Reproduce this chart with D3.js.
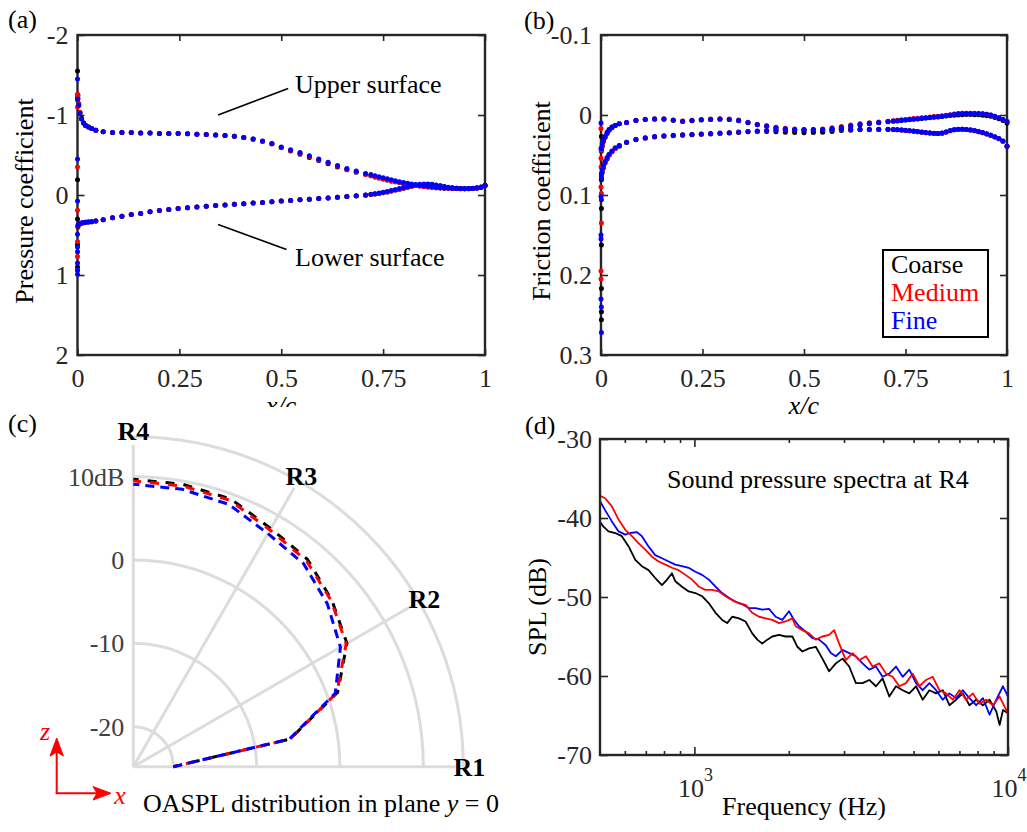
<!DOCTYPE html>
<html>
<head>
<meta charset="utf-8">
<script src="https://cdn.jsdelivr.net/npm/d3@7"></script>
<style>
  body { margin: 0; background: #fff; }
  svg { display: block; font-family: "Liberation Serif", "Times New Roman", serif; }
</style>
</head>
<body>
<svg id="fig" width="1027" height="832"></svg>
<script>
// ---------- data ----------
const xTicks = [0, 0.25, 0.5, 0.75, 1];
const cpTicks = [-2, -1, 0, 1, 2];
const cfTicks = [-0.1, 0, 0.1, 0.2, 0.3];

// chordwise stations shared by the (a) and (b) dot plots
const stationX = [
  0.001, 0.003, 0.006, 0.01, 0.015, 0.02, 0.027, 0.035, 0.045,
  0.063, 0.086, 0.109, 0.132, 0.155, 0.178, 0.201, 0.224, 0.247, 0.27,
  0.293, 0.316, 0.339, 0.362, 0.385, 0.408, 0.431, 0.454, 0.477, 0.5,
  0.523, 0.546, 0.569, 0.592, 0.615, 0.638, 0.661, 0.684, 0.707,
  0.72, 0.73, 0.74, 0.75, 0.76, 0.77, 0.78, 0.79, 0.8, 0.81,
  0.82, 0.83, 0.84, 0.85, 0.86, 0.87, 0.88, 0.89, 0.9, 0.91,
  0.92, 0.93, 0.94, 0.95, 0.96, 0.97, 0.98, 0.99, 1
];

// (a) pressure coefficient
const cpUpperFine = [
  -1.2, -1.12, -1.02, -0.95, -0.9, -0.87, -0.85, -0.83, -0.81,
  -0.79, -0.78, -0.78, -0.78, -0.775, -0.775, -0.77, -0.77, -0.77, -0.765,
  -0.76, -0.755, -0.75, -0.745, -0.735, -0.72, -0.7, -0.675, -0.645, -0.6,
  -0.565, -0.53, -0.49, -0.45, -0.41, -0.37, -0.33, -0.3, -0.27,
  -0.255, -0.24, -0.228, -0.215, -0.203, -0.19, -0.178, -0.167, -0.157, -0.147,
  -0.138, -0.13, -0.122, -0.115, -0.108, -0.102, -0.097, -0.093, -0.089, -0.086,
  -0.083, -0.081, -0.08, -0.08, -0.081, -0.083, -0.088, -0.098, -0.12
];
const cpUpperMedium = [
  -1.22, -1.13, -1.03, -0.95, -0.9, -0.87, -0.85, -0.83, -0.81,
  -0.79, -0.78, -0.78, -0.78, -0.775, -0.775, -0.77, -0.77, -0.77, -0.765,
  -0.76, -0.755, -0.75, -0.745, -0.735, -0.72, -0.695, -0.67, -0.637, -0.59,
  -0.555, -0.52, -0.48, -0.44, -0.4, -0.36, -0.32, -0.29, -0.255,
  -0.24, -0.225, -0.212, -0.2, -0.188, -0.176, -0.165, -0.155, -0.145, -0.136,
  -0.128, -0.12, -0.113, -0.107, -0.101, -0.096, -0.092, -0.088, -0.085, -0.083,
  -0.081, -0.08, -0.079, -0.079, -0.08, -0.082, -0.087, -0.097, -0.12
];
const cpUpperCoarse = [
  -1.25, -1.14, -1.03, -0.96, -0.9, -0.87, -0.85, -0.83, -0.81,
  -0.79, -0.78, -0.78, -0.78, -0.775, -0.775, -0.77, -0.77, -0.77, -0.765,
  -0.76, -0.755, -0.75, -0.745, -0.735, -0.72, -0.7, -0.672, -0.64, -0.595,
  -0.55, -0.51, -0.47, -0.43, -0.39, -0.35, -0.315, -0.285, -0.26,
  -0.24, -0.225, -0.212, -0.2, -0.188, -0.176, -0.165, -0.155, -0.145, -0.136,
  -0.128, -0.12, -0.113, -0.107, -0.101, -0.096, -0.092, -0.088, -0.085, -0.083,
  -0.081, -0.08, -0.079, -0.079, -0.08, -0.082, -0.087, -0.097, -0.12
];
const cpLowerFine = [
  0.38, 0.36, 0.355, 0.35, 0.345, 0.342, 0.338, 0.333, 0.326,
  0.31, 0.285, 0.265, 0.245, 0.23, 0.21, 0.195, 0.18, 0.17, 0.16,
  0.15, 0.14, 0.13, 0.125, 0.115, 0.11, 0.1, 0.095, 0.085, 0.075,
  0.068, 0.06, 0.052, 0.045, 0.037, 0.028, 0.02, 0.01, 0.0,
  -0.008, -0.016, -0.024, -0.034, -0.044, -0.055, -0.067, -0.08, -0.092, -0.104,
  -0.115, -0.125, -0.133, -0.138, -0.138, -0.133, -0.125, -0.115, -0.105, -0.097,
  -0.09, -0.085, -0.082, -0.08, -0.08, -0.082, -0.087, -0.097, -0.12
];
const cpLowerMedium = [
  0.39, 0.365, 0.357, 0.35, 0.345, 0.342, 0.338, 0.333, 0.326,
  0.31, 0.285, 0.265, 0.245, 0.23, 0.21, 0.195, 0.18, 0.17, 0.16,
  0.15, 0.14, 0.13, 0.125, 0.115, 0.11, 0.1, 0.095, 0.085, 0.075,
  0.068, 0.06, 0.052, 0.045, 0.037, 0.028, 0.02, 0.01, 0.0,
  -0.005, -0.012, -0.02, -0.029, -0.039, -0.05, -0.061, -0.073, -0.085, -0.097,
  -0.108, -0.118, -0.126, -0.131, -0.132, -0.128, -0.12, -0.111, -0.102, -0.095,
  -0.089, -0.084, -0.081, -0.079, -0.079, -0.081, -0.086, -0.096, -0.12
];
const cpLowerCoarse = [
  0.4, 0.37, 0.36, 0.352, 0.346, 0.342, 0.338, 0.333, 0.326,
  0.31, 0.285, 0.265, 0.245, 0.23, 0.21, 0.195, 0.18, 0.17, 0.16,
  0.15, 0.14, 0.13, 0.125, 0.115, 0.11, 0.1, 0.095, 0.085, 0.075,
  0.068, 0.06, 0.052, 0.045, 0.037, 0.028, 0.02, 0.013, 0.004,
  -0.005, -0.012, -0.02, -0.029, -0.039, -0.05, -0.061, -0.073, -0.085, -0.097,
  -0.108, -0.118, -0.126, -0.131, -0.132, -0.128, -0.12, -0.111, -0.102, -0.095,
  -0.089, -0.084, -0.081, -0.079, -0.079, -0.081, -0.086, -0.096, -0.12
];
// points around the leading-edge stagnation region [x/c, Cp]
const cpNoseFine = [[0, -1.45], [0, -1.19], [0, -0.45], [0, 0.075], [0, 0.49], [0, 0.65], [0, 0.71], [0, 0.85], [0, 0.94], [0, 0.99]];
const cpNoseMedium = [[0, -1.26], [0, -1.1], [0, -0.35], [0, 0.19], [0, 0.58], [0, 0.77], [0, 0.94]];
const cpNoseCoarse = [[0, -1.55], [0, -1.22], [0, -0.19], [0, 0.3], [0, 0.62], [0, 0.9]];

// (b) friction coefficient
const cfUpperFine = [
  0.042, 0.036, 0.031, 0.027, 0.022, 0.018, 0.015, 0.013, 0.011,
  0.0095, 0.0068, 0.0055, 0.005, 0.005, 0.0065, 0.0078, 0.007, 0.006, 0.0055,
  0.005, 0.0055, 0.007, 0.0095, 0.012, 0.0137, 0.0158, 0.0172, 0.0182, 0.0188,
  0.019, 0.0185, 0.017, 0.0152, 0.0133, 0.0117, 0.0103, 0.0093, 0.0082,
  0.0076, 0.0071, 0.0066, 0.0061, 0.0056, 0.0051, 0.0046, 0.0041, 0.0036, 0.0031,
  0.0026, 0.0021, 0.0015, 0.0008, 0.0, -0.001, -0.0015, -0.002, -0.002, -0.002,
  -0.002, -0.0018, -0.0015, -0.001, 0.0, 0.0015, 0.0035, 0.0055, 0.008
];
const cfUpperMedium = [
  0.044, 0.038, 0.032, 0.027, 0.022, 0.018, 0.015, 0.013, 0.011,
  0.0093, 0.0066, 0.0053, 0.0048, 0.0048, 0.0062, 0.0074, 0.0067, 0.0057, 0.0051,
  0.0046, 0.005, 0.0064, 0.009, 0.0118, 0.0135, 0.0152, 0.0165, 0.0175, 0.018,
  0.018, 0.0175, 0.016, 0.0143, 0.0125, 0.011, 0.0097, 0.0087, 0.0077,
  0.0071, 0.0066, 0.006, 0.0055, 0.005, 0.0045, 0.004, 0.0035, 0.003, 0.0025,
  0.002, 0.0015, 0.001, 0.0004, -0.0004, -0.0013, -0.0018, -0.0022, -0.0023, -0.0023,
  -0.0022, -0.002, -0.0016, -0.001, 0.0, 0.0015, 0.0035, 0.0055, 0.008
];
const cfUpperCoarse = [
  0.045, 0.039, 0.033, 0.028, 0.023, 0.019, 0.016, 0.013, 0.011,
  0.0097, 0.007, 0.0057, 0.0052, 0.0052, 0.0067, 0.008, 0.0072, 0.0062, 0.0057,
  0.0052, 0.0057, 0.0072, 0.0098, 0.0123, 0.014, 0.0162, 0.0178, 0.019, 0.0198,
  0.0205, 0.0205, 0.0193, 0.0168, 0.0145, 0.0125, 0.011, 0.0097, 0.0085,
  0.0079, 0.0074, 0.0069, 0.0064, 0.0059, 0.0054, 0.0049, 0.0044, 0.0039, 0.0034,
  0.0029, 0.0024, 0.0019, 0.0013, 0.0007, 0.0003, 0.0, -0.0004, -0.0005, -0.0005,
  -0.0004, -0.0002, 0.0002, 0.0008, 0.0017, 0.003, 0.0048, 0.0068, 0.01
];
const cfLowerFine = [
  0.075, 0.068, 0.063, 0.058, 0.053, 0.049, 0.045, 0.041, 0.038,
  0.034, 0.0305, 0.0285, 0.027, 0.026, 0.0254, 0.0248, 0.0243, 0.0238, 0.0232,
  0.0226, 0.0221, 0.0214, 0.0206, 0.02, 0.0195, 0.019, 0.0187, 0.0185, 0.0183,
  0.0181, 0.018, 0.0179, 0.0178, 0.0178, 0.0178, 0.0178, 0.0178, 0.0179,
  0.018, 0.0183, 0.0187, 0.0191, 0.0196, 0.0201, 0.0207, 0.0213, 0.0219, 0.0224,
  0.0228, 0.023, 0.0226, 0.0212, 0.0195, 0.0183, 0.0178, 0.0177, 0.018, 0.0186,
  0.0195, 0.0206, 0.0219, 0.0235, 0.0252, 0.0272, 0.0295, 0.0325, 0.039
];
const cfLowerMedium = [
  0.077, 0.07, 0.064, 0.059, 0.054, 0.05, 0.046, 0.042, 0.038,
  0.0342, 0.0307, 0.0287, 0.0272, 0.0262, 0.0256, 0.025, 0.0245, 0.024, 0.0234,
  0.0228, 0.0223, 0.0216, 0.0208, 0.0202, 0.0197, 0.0192, 0.0189, 0.0187, 0.0185,
  0.0183, 0.0182, 0.0181, 0.018, 0.018, 0.018, 0.018, 0.018, 0.0181,
  0.0182, 0.0185, 0.0189, 0.0193, 0.0198, 0.0203, 0.0209, 0.0215, 0.0221, 0.0226,
  0.023, 0.0232, 0.0228, 0.0214, 0.0197, 0.0185, 0.018, 0.0179, 0.0182, 0.0188,
  0.0197, 0.0208, 0.0221, 0.0237, 0.0254, 0.0274, 0.0297, 0.0327, 0.039
];
const cfLowerCoarse = [
  0.08, 0.072, 0.066, 0.06, 0.055, 0.05, 0.046, 0.042, 0.039,
  0.0345, 0.031, 0.029, 0.0275, 0.0265, 0.0258, 0.0252, 0.0247, 0.0242, 0.0236,
  0.023, 0.0225, 0.0218, 0.021, 0.0205, 0.0205, 0.021, 0.0215, 0.022, 0.0222,
  0.022, 0.0215, 0.0205, 0.0195, 0.019, 0.0185, 0.0183, 0.0182, 0.0182,
  0.0182, 0.0185, 0.0189, 0.0193, 0.0198, 0.0203, 0.0209, 0.0215, 0.0221, 0.0226,
  0.023, 0.0232, 0.0228, 0.0214, 0.0197, 0.0185, 0.018, 0.0179, 0.0182, 0.0188,
  0.0197, 0.0208, 0.0221, 0.0237, 0.0254, 0.0274, 0.0297, 0.0327, 0.039
];
const cfNoseFine = [[0, 0.01], [0, 0.042], [0.001, 0.073], [0.001, 0.079], [0, 0.102], [0.001, 0.106], [0, 0.15], [0, 0.155], [0, 0.23], [0.001, 0.24], [0.001, 0.272]];
const cfNoseMedium = [[0, 0.017], [0, 0.054], [0, 0.065], [0, 0.09], [0.001, 0.098], [0.001, 0.135], [0, 0.195], [0, 0.205]];
const cfNoseCoarse = [[0.001, 0.027], [0.001, 0.081], [0.001, 0.117], [0.001, 0.1625], [0.001, 0.217], [0.001, 0.246], [0.001, 0.256]];

// (c) OASPL directivity, dB
const polarAngles = [0, 10, 20, 30, 40, 50, 60, 70, 80, 90];
const oasplCoarse = [-20.0, -5.7, 1.3, 4.8, 6.3, 7.7, 8.2, 9.4, 9.6, 9.7];
const oasplMedium = [-20.0, -5.7, 1.2, 4.7, 6.2, 7.5, 8.0, 9.2, 9.4, 9.5];
const oasplFine = [-20.0, -5.8, 1.0, 3.9, 5.6, 7.0, 7.5, 8.7, 9.0, 9.1];
const polarRings = [-20, -10, 0, 10];
const polarSpokes = [0, 30, 60, 90];
const spokeNames = ['R1', 'R2', 'R3', 'R4'];

// (d) sound pressure spectra at R4
const splTicks = [-70, -60, -50, -40, -30];
const freqMajor = [1000, 10000];
const freqMinor = [600, 700, 800, 900, 2000, 3000, 4000, 5000, 6000, 7000, 8000, 9000];
const freqCoarse = [
  494, 513, 532, 559, 587, 617, 648, 680, 714, 750,
  788, 818, 848, 869, 913, 959, 1007, 1058, 1112, 1168,
  1226, 1272, 1320, 1387, 1456, 1529, 1587, 1646, 1708, 1772,
  1861, 1954, 2053, 2130, 2210, 2321, 2438, 2560, 2689, 2825,
  2967, 3116, 3273, 3437, 3611, 3792, 3982, 4182, 4393, 4614,
  4846, 5089, 5345, 5615, 5897, 6193, 6504, 6832, 7176, 7536,
  7915, 8318, 8733, 9177, 9403, 9639, 10000
];
const splCoarse = [
  -40.2, -41.1, -41.7, -41.9, -42.3, -43.6, -45.3, -46.1, -46.6, -47.6,
  -48.5, -47.8, -47.0, -48.0, -48.7, -49.3, -49.5, -49.9, -50.8, -52.0,
  -52.9, -53.3, -52.5, -52.7, -53.1, -54.6, -55.4, -55.9, -55.4, -55.0,
  -54.8, -55.0, -55.0, -56.3, -56.9, -56.5, -56.3, -57.8, -59.4, -58.4,
  -57.8, -58.8, -60.9, -60.9, -60.5, -61.3, -60.3, -62.6, -61.3, -61.8,
  -62.2, -61.3, -63.0, -61.8, -62.2, -61.8, -63.7, -63.0, -62.2, -63.7,
  -63.0, -63.7, -63.0, -64.5, -66.2, -64.3, -64.7
];
const freqMedium = [
  494, 519, 545, 573, 602, 632, 664, 697, 732, 769,
  808, 848, 891, 936, 983, 1033, 1084, 1139, 1197, 1257,
  1320, 1387, 1456, 1529, 1607, 1687, 1772, 1861, 1954, 2053,
  2104, 2210, 2321, 2438, 2560, 2689, 2790, 2895, 3040, 3194,
  3354, 3523, 3700, 3886, 4082, 4287, 4502, 4728, 4967, 5216,
  5478, 5753, 6042, 6347, 6666, 7001, 7353, 7724, 8112, 8521,
  8954, 9403, 9756, 10000
];
const splMedium = [
  -37.1, -37.5, -38.5, -40.2, -41.5, -42.3, -43.2, -44.0, -44.9, -45.5,
  -45.9, -46.3, -46.6, -47.2, -47.8, -48.7, -49.1, -49.1, -49.3, -49.9,
  -50.4, -50.8, -51.0, -52.0, -52.5, -52.7, -52.9, -53.3, -53.1, -52.7,
  -53.7, -54.2, -54.6, -55.4, -55.0, -54.8, -54.2, -55.9, -58.0, -57.1,
  -58.0, -57.5, -58.8, -58.4, -59.7, -60.1, -61.3, -60.9, -59.7, -61.3,
  -60.5, -60.1, -61.8, -62.2, -63.0, -61.8, -63.0, -62.2, -63.5, -63.0,
  -63.7, -62.6, -63.9, -64.7
];
const freqFine = [
  494, 519, 545, 573, 602, 624, 656, 680, 714, 750,
  788, 828, 869, 913, 959, 1007, 1058, 1112, 1168, 1226,
  1288, 1353, 1421, 1492, 1567, 1646, 1729, 1816, 1907, 2003,
  2078, 2156, 2265, 2378, 2498, 2624, 2723, 2825, 2967, 3116,
  3273, 3437, 3611, 3792, 3982, 4182, 4393, 4614, 4846, 5089,
  5345, 5615, 5897, 6193, 6504, 6832, 7176, 7536, 7915, 8318,
  8733, 9177, 9639, 10000
];
const splFine = [
  -37.5, -39.0, -40.4, -41.7, -42.1, -41.9, -41.8, -42.3, -43.6, -44.7,
  -45.1, -45.5, -45.9, -46.1, -46.3, -46.8, -47.2, -47.8, -48.7, -49.5,
  -50.1, -50.6, -50.9, -51.4, -51.4, -51.6, -51.5, -52.5, -52.9, -51.8,
  -52.9, -53.7, -54.4, -55.2, -55.4, -56.1, -57.1, -57.5, -56.7, -57.1,
  -57.5, -58.4, -59.2, -58.8, -60.1, -59.7, -58.8, -60.1, -59.2, -60.9,
  -61.8, -60.9, -61.8, -63.0, -62.2, -62.8, -61.8, -62.8, -63.7, -62.8,
  -64.9, -63.0, -61.3, -62.6
];

// ---------- drawing ----------
const svg = d3.select('#fig');
const FONT = 26;
const AXIS_COLOR = '#262626';
const COLORS = { coarse: '#000000', medium: '#ff0000', fine: '#0000ff' };

function styleAxis(sel) {
  sel.attr('font-family', null).attr('font-size', null);
  sel.select('.domain').remove();
  sel.selectAll('.tick line').attr('stroke', AXIS_COLOR).attr('stroke-width', 1.6);
  sel.selectAll('.tick text').attr('fill', AXIS_COLOR).style('font-size', FONT + 'px');
}

function label(g, x, y, text, opts = {}) {
  return g.append('text')
    .attr('x', x).attr('y', y)
    .attr('font-size', opts.size || FONT)
    .attr('fill', opts.fill || '#000')
    .attr('text-anchor', opts.anchor || 'start')
    .attr('font-style', opts.italic ? 'italic' : null)
    .attr('font-weight', opts.bold ? 'bold' : null)
    .text(text);
}

function boxAxes(g, x, y, xVals, yVals, xFmt, yFmt, box) {
  g.append('g').attr('transform', `translate(0,${box.bottom})`)
    .call(d3.axisBottom(x).tickValues(xVals).tickSize(-6).tickPadding(14).tickFormat(xFmt))
    .call(styleAxis);
  g.append('g').attr('transform', `translate(0,${box.top})`)
    .call(d3.axisTop(x).tickValues(xVals).tickSize(-6).tickFormat(''))
    .call(styleAxis);
  g.append('g').attr('transform', `translate(${box.left},0)`)
    .call(d3.axisLeft(y).tickValues(yVals).tickSize(-7).tickPadding(9).tickFormat(yFmt))
    .call(styleAxis);
  g.append('g').attr('transform', `translate(${box.right},0)`)
    .call(d3.axisRight(y).tickValues(yVals).tickSize(-7).tickFormat(''))
    .call(styleAxis);
  g.append('rect')
    .attr('x', box.left).attr('y', box.top)
    .attr('width', box.right - box.left).attr('height', box.bottom - box.top)
    .attr('fill', 'none').attr('stroke', AXIS_COLOR).attr('stroke-width', 2.4);
}

function dotPanel(box, yDomain, yTicks, series) {
  const x = d3.scaleLinear().domain([0, 1]).range([box.left, box.right]);
  const y = d3.scaleLinear().domain(yDomain).range([box.top, box.bottom]);
  const g = svg.append('g');
  boxAxes(g, x, y, xTicks, yTicks, d => String(d), d => String(d), box);
  series.forEach(s => {
    const pts = s.nose.concat(d3.zip(stationX, s.upper), d3.zip(stationX, s.lower));
    g.append('g').selectAll('circle').data(pts).join('circle')
      .attr('cx', d => x(d[0])).attr('cy', d => y(d[1]))
      .attr('r', 2.5).attr('fill', s.color);
  });
  return { g, x, y };
}

// ----- (a) -----
const boxA = { left: 77.5, right: 485, top: 35, bottom: 355 };
const pa = dotPanel(boxA, [-2, 2], cpTicks, [
  { color: COLORS.coarse, nose: cpNoseCoarse, upper: cpUpperCoarse, lower: cpLowerCoarse },
  { color: COLORS.medium, nose: cpNoseMedium, upper: cpUpperMedium, lower: cpLowerMedium },
  { color: COLORS.fine, nose: cpNoseFine, upper: cpUpperFine, lower: cpLowerFine }
]);
pa.g.append('line')
  .attr('x1', pa.x(0.345)).attr('y1', pa.y(-1.0)).attr('x2', pa.x(0.517)).attr('y2', pa.y(-1.33))
  .attr('stroke', '#000').attr('stroke-width', 1.6);
label(pa.g, pa.x(0.534), pa.y(-1.27), 'Upper surface');
pa.g.append('line')
  .attr('x1', pa.x(0.345)).attr('y1', pa.y(0.37)).attr('x2', pa.x(0.513)).attr('y2', pa.y(0.68))
  .attr('stroke', '#000').attr('stroke-width', 1.6);
label(pa.g, pa.x(0.534), pa.y(0.89), 'Lower surface');
label(svg, 0, 0, 'Pressure coefficient', { anchor: 'middle' })
  .attr('transform', 'translate(33,201) rotate(-90)');
label(svg, 8, 28, '(a)');
svg.append('clipPath').attr('id', 'clipXA')
  .append('rect').attr('x', 0).attr('y', 0).attr('width', 500).attr('height', 407);
label(svg, (boxA.left + boxA.right) / 2, 414, 'x/c', { anchor: 'middle', italic: true })
  .attr('clip-path', 'url(#clipXA)');

// ----- (b) -----
const boxB = { left: 601, right: 1007, top: 35, bottom: 355 };
const pb = dotPanel(boxB, [-0.1, 0.3], cfTicks, [
  { color: COLORS.coarse, nose: cfNoseCoarse, upper: cfUpperCoarse, lower: cfLowerCoarse },
  { color: COLORS.medium, nose: cfNoseMedium, upper: cfUpperMedium, lower: cfLowerMedium },
  { color: COLORS.fine, nose: cfNoseFine, upper: cfUpperFine, lower: cfLowerFine }
]);
label(svg, 0, 0, 'Friction coefficient', { anchor: 'middle' })
  .attr('transform', 'translate(550,201) rotate(-90)');
label(svg, 524, 29, '(b)');
label(svg, (boxB.left + boxB.right) / 2, 414, 'x/c', { anchor: 'middle', italic: true });
// legend
const legend = svg.append('g');
legend.append('rect').attr('x', 883).attr('y', 250).attr('width', 105).attr('height', 87)
  .attr('fill', '#fff').attr('stroke', '#000').attr('stroke-width', 2);
[['Coarse', COLORS.coarse], ['Medium', COLORS.medium], ['Fine', COLORS.fine]].forEach((d, i) => {
  label(legend, 891, 273 + i * 28, d[0], { fill: d[1] });
});

// ----- (c) polar OASPL -----
const cx = 133.3, cy = 766.7;
const OUTER_R = 330, SPOKE_R = 322, NAME_R = 336;
const rScale = d3.scaleLinear().domain([-24.8, 10]).range([0, 290]);
const gc = svg.append('g');
const rad = deg => deg * Math.PI / 180;
const ringRadii = polarRings.map(rScale).concat([OUTER_R]);
ringRadii.forEach(r => {
  const p = d3.path();
  p.moveTo(cx + r, cy);
  p.arc(cx, cy, r, 0, -Math.PI / 2, true);
  gc.append('path').attr('d', p.toString())
    .attr('fill', 'none').attr('stroke', '#dcdcdc').attr('stroke-width', 3);
});
polarSpokes.forEach((a, i) => {
  gc.append('line')
    .attr('x1', cx).attr('y1', cy)
    .attr('x2', cx + SPOKE_R * Math.cos(rad(a))).attr('y2', cy - SPOKE_R * Math.sin(rad(a)))
    .attr('stroke', '#dcdcdc').attr('stroke-width', 3);
  label(gc, cx + NAME_R * Math.cos(rad(a)), cy - NAME_R * Math.sin(rad(a)), spokeNames[i],
    { anchor: 'middle', bold: true }).attr('dy', '0.35em');
});
polarRings.forEach(v => {
  label(gc, cx - 9, cy - rScale(v), v === 10 ? '10dB' : String(v), { anchor: 'end', fill: '#404040' })
    .attr('dy', '0.35em');
});
const radial = d3.lineRadial()
  .angle(d => Math.PI / 2 - rad(d[0]))
  .radius(d => rScale(d[1]));
[[oasplCoarse, COLORS.coarse, '9,9', 0], [oasplMedium, COLORS.medium, '9,9', 5], [oasplFine, COLORS.fine, '9,6', 0]].forEach(s => {
  gc.append('path')
    .attr('transform', `translate(${cx},${cy})`)
    .attr('d', radial(d3.zip(polarAngles, s[0])))
    .attr('fill', 'none').attr('stroke', s[1]).attr('stroke-width', 3)
    .attr('stroke-dasharray', s[2]).attr('stroke-dashoffset', s[3]);
});
label(svg, 8, 432, '(c)');
// axis indicator
const ind = svg.append('g').attr('stroke', '#ff0000').attr('fill', '#ff0000');
ind.append('line').attr('x1', 56.7).attr('y1', 793.3).attr('x2', 56.7).attr('y2', 752).attr('stroke-width', 2);
ind.append('path').attr('d', 'M56.7,738 L50,756 L56.7,752 L63.4,756 Z').attr('stroke-width', 1);
ind.append('line').attr('x1', 55.7).attr('y1', 793.3).attr('x2', 97).attr('y2', 793.3).attr('stroke-width', 2);
ind.append('path').attr('d', 'M111,793.3 L93,786.6 L97,793.3 L93,800 Z').attr('stroke-width', 1);
label(svg, 45, 740, 'z', { anchor: 'middle', italic: true, fill: '#ff0000' });
label(svg, 120, 804, 'x', { anchor: 'middle', italic: true, fill: '#ff0000' });
const cap = label(svg, 143, 812, 'OASPL distribution in plane ');
cap.append('tspan').attr('font-style', 'italic').text('y');
cap.append('tspan').text(' = 0');

// ----- (d) spectra -----
const boxD = { left: 600, right: 1008, top: 439, bottom: 755 };
const xd = d3.scaleLog().domain([500, 10000]).range([boxD.left, boxD.right]);
const yd = d3.scaleLinear().domain([-70, -30]).range([boxD.bottom, boxD.top]);
const gd = svg.append('g');
gd.append('clipPath').attr('id', 'clipD').append('rect')
  .attr('x', boxD.left).attr('y', boxD.top)
  .attr('width', boxD.right - boxD.left).attr('height', boxD.bottom - boxD.top);
const spLine = d3.line().x(d => xd(d[0])).y(d => yd(d[1]));
[[freqCoarse, splCoarse, COLORS.coarse], [freqFine, splFine, COLORS.fine], [freqMedium, splMedium, COLORS.medium]].forEach(s => {
  gd.append('path')
    .attr('d', spLine(d3.zip(s[0], s[1])))
    .attr('clip-path', 'url(#clipD)')
    .attr('fill', 'none').attr('stroke', s[2]).attr('stroke-width', 1.8)
    .attr('stroke-linejoin', 'round');
});
gd.append('g').attr('transform', `translate(0,${boxD.bottom})`)
  .call(d3.axisBottom(xd).tickValues(freqMinor).tickSize(-4).tickFormat('')).call(styleAxis);
gd.append('g').attr('transform', `translate(0,${boxD.top})`)
  .call(d3.axisTop(xd).tickValues(freqMinor).tickSize(-4).tickFormat('')).call(styleAxis);
gd.append('g').attr('transform', `translate(0,${boxD.bottom})`)
  .call(d3.axisBottom(xd).tickValues(freqMajor).tickSize(-8).tickFormat('')).call(styleAxis);
gd.append('g').attr('transform', `translate(0,${boxD.top})`)
  .call(d3.axisTop(xd).tickValues(freqMajor).tickSize(-8).tickFormat('')).call(styleAxis);
gd.append('g').attr('transform', `translate(${boxD.left},0)`)
  .call(d3.axisLeft(yd).tickValues(splTicks).tickSize(-8).tickPadding(8).tickFormat(d => String(d))).call(styleAxis);
gd.append('g').attr('transform', `translate(${boxD.right},0)`)
  .call(d3.axisRight(yd).tickValues(splTicks).tickSize(-8).tickFormat('')).call(styleAxis);
gd.append('rect')
  .attr('x', boxD.left).attr('y', boxD.top)
  .attr('width', boxD.right - boxD.left).attr('height', boxD.bottom - boxD.top)
  .attr('fill', 'none').attr('stroke', AXIS_COLOR).attr('stroke-width', 2.4);
freqMajor.forEach(f => {
  label(gd, xd(f) + 9.5, 797, '10', { anchor: 'end', fill: AXIS_COLOR });
  label(gd, xd(f) + 9.5, 781, String(Math.round(Math.log10(f))), { size: 18, fill: AXIS_COLOR });
});
label(gd, (boxD.left + boxD.right) / 2, 815, 'Frequency (Hz)', { anchor: 'middle' });
label(svg, 0, 0, 'SPL (dB)', { anchor: 'middle' })
  .attr('transform', 'translate(546,607) rotate(-90)');
label(gd, 667, 488, 'Sound pressure spectra at R4');
label(svg, 525, 434, '(d)');
</script>
</body>
</html>
